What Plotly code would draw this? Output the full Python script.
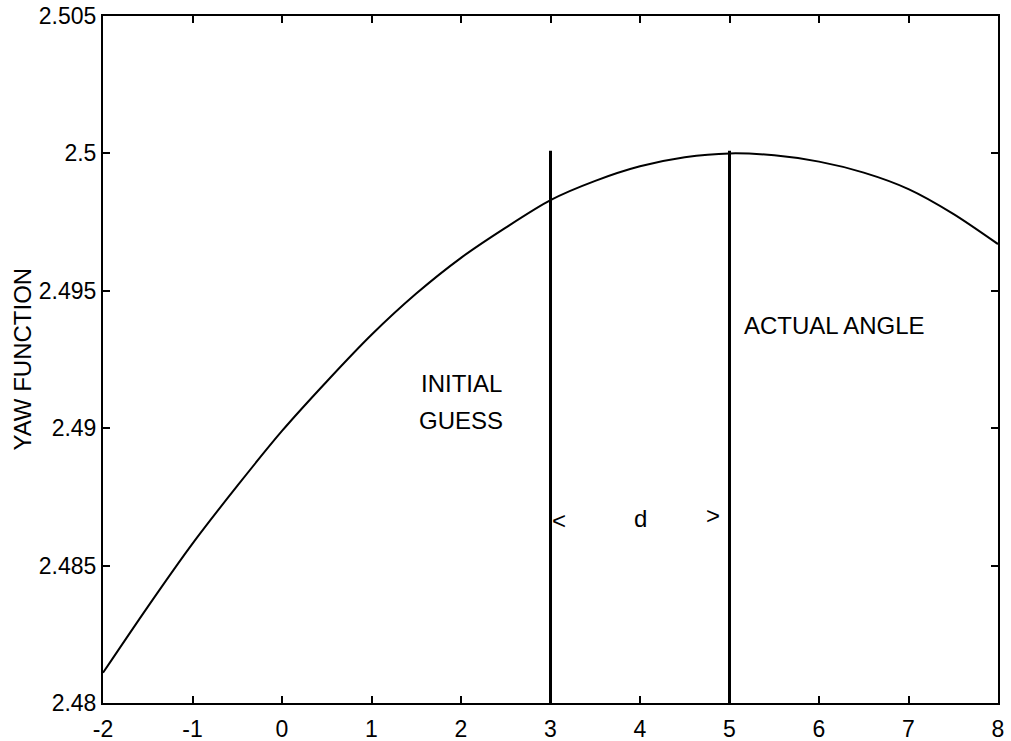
import plotly.graph_objects as go

# Yaw function curve
x_vals = [-2, -1.5, -1, -0.5, 0, 0.5, 1, 1.5, 2, 2.5, 3, 3.5, 4, 4.5, 5, 5.5, 6, 6.5, 7, 7.5, 8]
yaw_vals = [2.4811, 2.4835, 2.4858, 2.4879, 2.4899, 2.4917, 2.4934, 2.4949, 2.4962, 2.4973,
            2.4983, 2.4990, 2.49953, 2.49986, 2.5000, 2.49993, 2.4997, 2.4993, 2.4987, 2.4978, 2.4967]

initial_guess = 3
actual_angle = 5
marker_top = 2.5001

x_ticks = [-2, -1, 0, 1, 2, 3, 4, 5, 6, 7, 8]
x_tick_text = ["-2", "-1", "0", "1", "2", "3", "4", "5", "6", "7", "8"]
y_ticks = [2.48, 2.485, 2.49, 2.495, 2.5, 2.505]
y_tick_text = ["2.48", "2.485", "2.49", "2.495", "2.5", "2.505"]

FONT = "Liberation Sans, Arial, sans-serif"

fig = go.Figure()
fig.add_trace(go.Scatter(x=x_vals, y=yaw_vals, mode="lines", line=dict(color="black", width=2, shape="spline", smoothing=0.8),
                         showlegend=False, hoverinfo="skip"))
for xv in [initial_guess, actual_angle]:
    fig.add_trace(go.Scatter(x=[xv, xv], y=[2.48, marker_top], mode="lines",
                             line=dict(color="black", width=3), showlegend=False, hoverinfo="skip"))

ann_font = dict(family=FONT, size=24, color="black")
annotations = [
    dict(x=2.0, y=2.49164, text="INITIAL", showarrow=False, font=ann_font, xanchor="center", yanchor="middle"),
    dict(x=2.0, y=2.49029, text="GUESS", showarrow=False, font=ann_font, xanchor="center", yanchor="middle"),
    dict(x=6.17, y=2.49375, text="ACTUAL ANGLE", showarrow=False, font=ann_font, xanchor="center", yanchor="middle"),
    dict(x=3.095, y=2.48665, text="&lt;", showarrow=False, font=ann_font, xanchor="center", yanchor="middle"),
    dict(x=4.01, y=2.48673, text="d", showarrow=False, font=ann_font, xanchor="center", yanchor="middle"),
    dict(x=4.82, y=2.48684, text="&gt;", showarrow=False, font=ann_font, xanchor="center", yanchor="middle"),
    dict(x=-0.0905, y=0.5, xref="paper", yref="paper", text="YAW FUNCTION", textangle=-90, showarrow=False,
         font=dict(family=FONT, size=24, color="black"), xanchor="center", yanchor="middle"),
]

fig.update_layout(
    width=1011, height=741,
    margin=dict(l=103, r=13, t=16, b=38),
    plot_bgcolor="white", paper_bgcolor="white",
    font=dict(family=FONT, size=23, color="black"),
    annotations=annotations,
    xaxis=dict(range=[-2, 8], tickvals=x_ticks, ticktext=x_tick_text, ticks="inside", ticklen=7, tickwidth=2,
               tickcolor="black", showline=True, linecolor="black", linewidth=2, mirror="ticks", showgrid=False,
               zeroline=False, automargin=False, ticklabelstandoff=4,
               tickfont=dict(family=FONT, size=23, color="black")),
    yaxis=dict(range=[2.48, 2.505], tickvals=y_ticks, ticktext=y_tick_text, ticks="inside", ticklen=7, tickwidth=2,
               tickcolor="black", showline=True, linecolor="black", linewidth=2, mirror="ticks", showgrid=False,
               zeroline=False, automargin=False,
               tickfont=dict(family=FONT, size=23, color="black")),
)

fig.write_html("out.html")
